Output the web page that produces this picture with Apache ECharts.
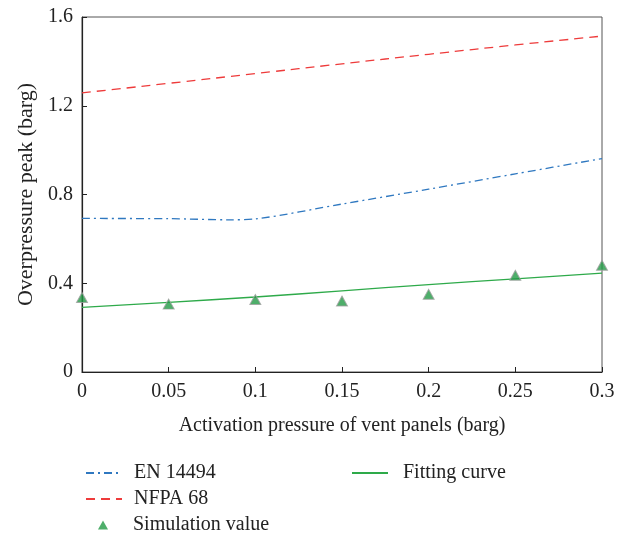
<!DOCTYPE html>
<html>
<head>
<meta charset="utf-8">
<script src="https://cdn.jsdelivr.net/npm/echarts@6/dist/echarts.min.js"></script>
<style>
  html, body { margin: 0; padding: 0; background: #fff; }
  #chart { width: 625px; height: 536px; }
</style>
</head>
<body>
<div id="chart"></div>
<script>
// activation pressure (barg)
const xTicks = [0, 0.05, 0.1, 0.15, 0.2, 0.25, 0.3];

// EN 14494 curve (dips slightly before 0.1)
const enX = [0, 0.05, 0.085, 0.1, 0.15, 0.2, 0.25, 0.3];
const enY = [0.692, 0.691, 0.686, 0.69, 0.757, 0.824, 0.893, 0.962];

// NFPA 68
const nfpaY = [1.258, 1.301, 1.345, 1.389, 1.432, 1.474, 1.514];

// simulation results
const simY = [0.336, 0.306, 0.327, 0.32, 0.35, 0.436, 0.481];

// fitting curve
const fitY = [0.291, 0.314, 0.338, 0.366, 0.394, 0.42, 0.446];

const pairs = (xs, ys) => xs.map((x, i) => [x, ys[i]]);

const font = 'Liberation Serif';
const txt = '#222';
const myChart = echarts.init(document.getElementById('chart'));

// one legend per entry so each sits where the reference has it
const lineLegend = (name, left, top, padLeft) => ({
    left: left, top: top, orient: 'vertical',
    itemWidth: 36, itemHeight: 10,
    textStyle: {fontFamily: font, fontSize: 20, color: txt, padding: [0, 0, 0, padLeft]},
    data: [{name: name, itemStyle: {opacity: 0}}]
});

const option = {
    animation: false,
    textStyle: {fontFamily: font},
    grid: {
        left: 82, right: 23, top: 17, bottom: 164,
        show: true, borderColor: '#555', borderWidth: 1
    },
    legend: [
        lineLegend('EN 14494', 80, 458, 7),
        lineLegend('NFPA 68', 80, 484, 7),
        {
            left: 93, top: 510, orient: 'vertical',
            itemWidth: 10, itemHeight: 9,
            textStyle: {fontFamily: font, fontSize: 20, color: txt, padding: [0, 0, 0, 20]},
            data: [{name: 'Simulation value', icon: 'triangle', itemStyle: {borderWidth: 0}}]
        },
        lineLegend('Fitting curve', 346, 458, 10)
    ],
    xAxis: {
        type: 'value', min: 0, max: 0.3, interval: 0.05,
        name: 'Activation pressure of vent panels (barg)',
        nameLocation: 'middle', nameGap: 44,
        nameTextStyle: {fontFamily: font, fontSize: 20, color: txt},
        axisLine: {lineStyle: {color: '#222', width: 1.2}},
        axisTick: {inside: true, length: 5, lineStyle: {color: '#222'}},
        axisLabel: {
            margin: 10, fontFamily: font, fontSize: 20, color: txt,
            formatter: v => String(+v.toFixed(2))
        },
        splitLine: {show: false}
    },
    yAxis: {
        type: 'value', min: 0, max: 1.6, interval: 0.4,
        name: 'Overpressure peak (barg)',
        nameLocation: 'middle', nameGap: 45,
        nameTextStyle: {fontFamily: font, fontSize: 22, color: txt},
        axisLine: {lineStyle: {color: '#222', width: 1.2}},
        axisTick: {inside: true, length: 5, lineStyle: {color: '#222'}},
        axisLabel: {
            margin: 9, fontFamily: font, fontSize: 20, color: txt,
            formatter: v => String(+v.toFixed(1))
        },
        splitLine: {show: false}
    },
    series: [
        {
            name: 'EN 14494', type: 'line', smooth: 0.3, symbol: 'none',
            data: pairs(enX, enY),
            itemStyle: {color: '#2f78c0'},
            lineStyle: {color: '#2f78c0', width: 1.3, type: [8, 4, 2, 4]}
        },
        {
            name: 'NFPA 68', type: 'line', smooth: true, symbol: 'none',
            data: pairs(xTicks, nfpaY),
            itemStyle: {color: '#ee3b3b'},
            lineStyle: {color: '#ee3b3b', width: 1.3, type: [9, 6]}
        },
        {
            name: 'Simulation value', type: 'scatter', symbol: 'triangle',
            symbolSize: [11, 10],
            data: pairs(xTicks, simY),
            itemStyle: {color: '#229a45', borderColor: '#a0a0a0', borderWidth: 1},
            z: 5
        },
        {
            name: 'Fitting curve', type: 'line', smooth: true, symbol: 'none',
            data: pairs(xTicks, fitY),
            itemStyle: {color: '#2eaa4a'},
            lineStyle: {color: '#2eaa4a', width: 1.3}
        }
    ]
};

myChart.setOption(option);
window.addEventListener('resize', myChart.resize, false);
</script>
</body>
</html>
